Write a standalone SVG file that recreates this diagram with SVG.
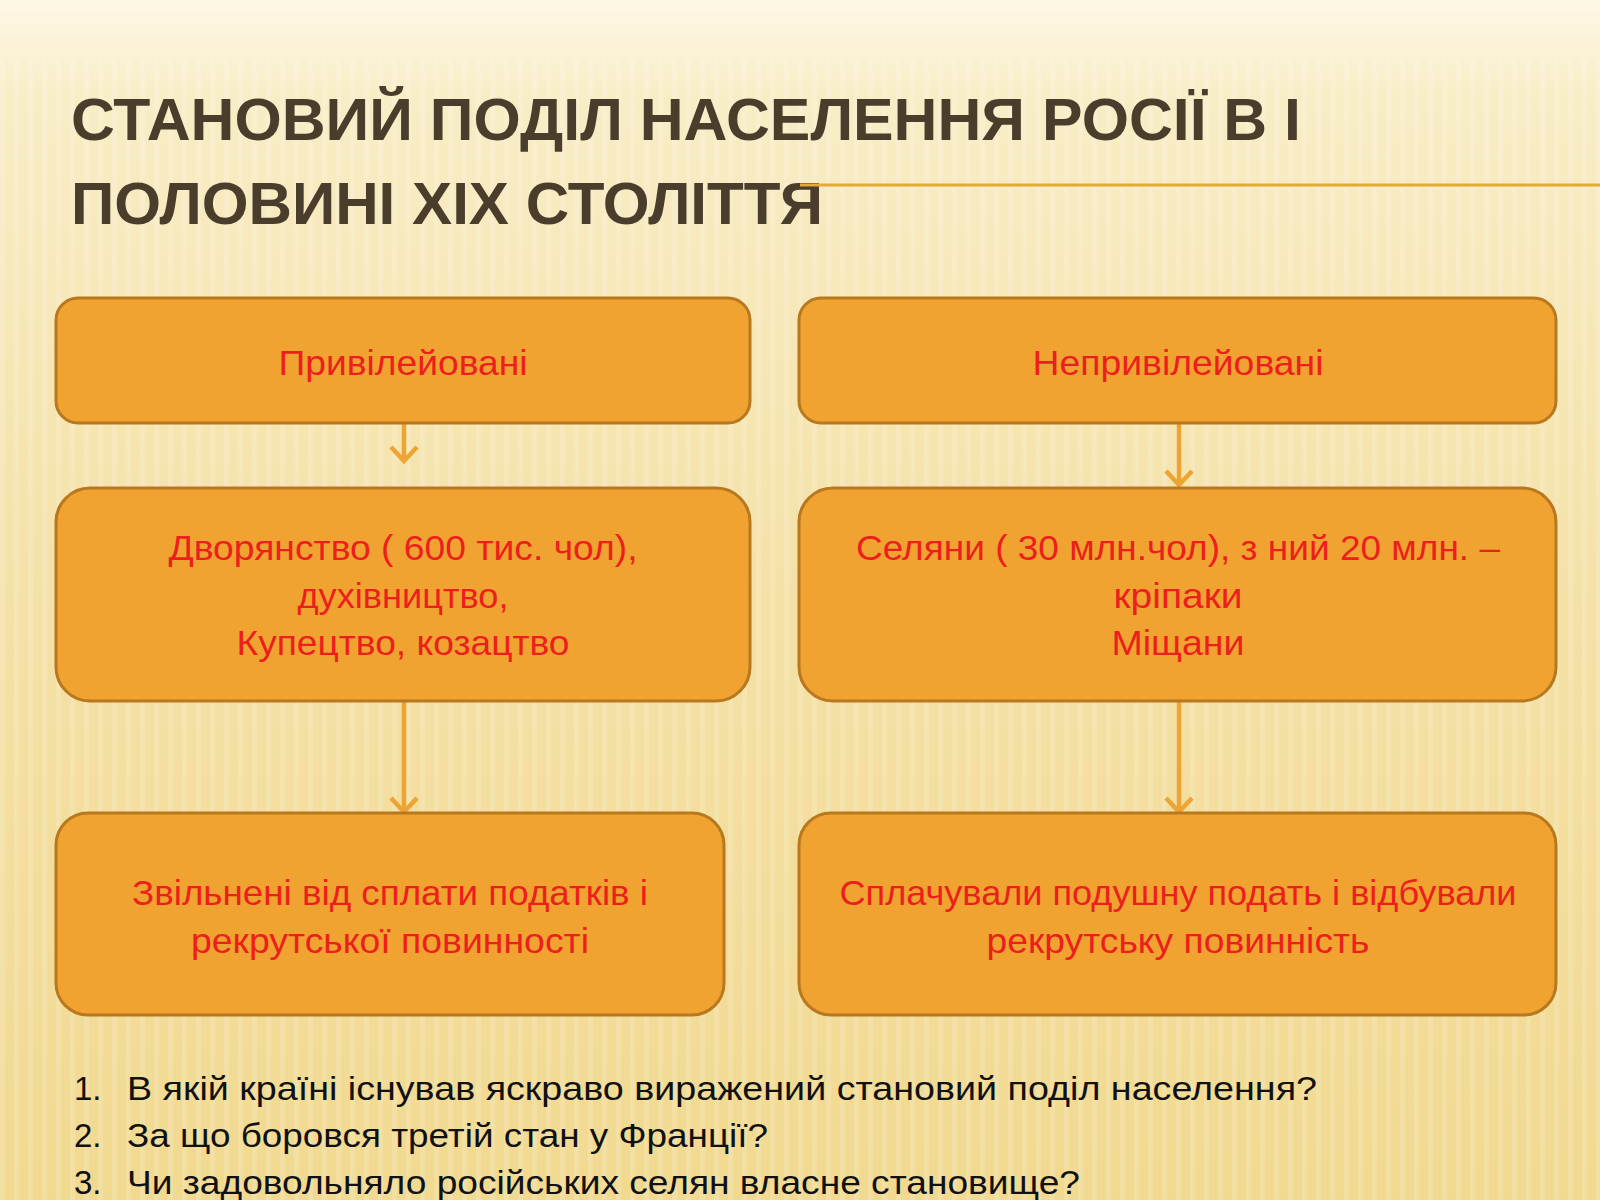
<svg xmlns="http://www.w3.org/2000/svg" width="1600" height="1200" viewBox="0 0 1600 1200">
<defs>
<linearGradient id="bg" x1="0" y1="0" x2="0" y2="1">
<stop offset="0" stop-color="#fdf8e6"/>
<stop offset="0.08" stop-color="#f9edc6"/>
<stop offset="0.5" stop-color="#f4e1a6"/>
<stop offset="1" stop-color="#f1d98f"/>
</linearGradient>
<pattern id="stripes" width="14" height="1200" patternUnits="userSpaceOnUse">
<rect x="0" y="0" width="5" height="1200" fill="#ffffff" opacity="0.25"/>
</pattern>
<marker id="ah" viewBox="0 0 30 30" refX="26" refY="15" markerWidth="30" markerHeight="30" markerUnits="userSpaceOnUse" orient="auto">
<path d="M12,2 L26,15 L12,28" fill="none" stroke="#eea433" stroke-width="4.5"/>
</marker>
</defs>
<style>
.box{fill:#f0a330;stroke:#b8781e;stroke-width:3}
.t{font-family:"Liberation Sans",sans-serif;font-size:35px;fill:#ec1f1c;text-anchor:middle}
.q{font-family:"Liberation Sans",sans-serif;font-size:33px;fill:#111}
.title{font-family:"Liberation Sans",sans-serif;font-size:60px;fill:#4b3d2c;font-weight:bold}
.c{stroke:#eea433;stroke-width:4.5;fill:none;marker-end:url(#ah)}
</style>
<rect width="1600" height="1200" fill="url(#bg)"/>
<rect y="60" width="1600" height="1140" fill="url(#stripes)" opacity="0.6"/>
<g id="title">
<text class="title" x="71" y="140" textLength="1230" lengthAdjust="spacingAndGlyphs">СТАНОВИЙ ПОДІЛ НАСЕЛЕННЯ РОСІЇ В І</text>
<text class="title" x="71" y="224" textLength="752" lengthAdjust="spacingAndGlyphs">ПОЛОВИНІ ХІХ СТОЛІТТЯ</text>
<line x1="800" y1="185" x2="1600" y2="185" stroke="#e8a73a" stroke-width="3"/>
</g>
<g id="connectors">
<line class="c" x1="404" y1="424" x2="404" y2="461"/>
<line class="c" x1="1179" y1="424" x2="1179" y2="485"/>
<line class="c" x1="404" y1="702" x2="404" y2="812"/>
<line class="c" x1="1179" y1="702" x2="1179" y2="812"/>
</g>
<g id="n1"><rect class="box" x="56" y="298" width="694" height="125" rx="22"/><text class="t" x="403" y="375" textLength="249" lengthAdjust="spacingAndGlyphs">Привілейовані</text></g>
<g id="n2"><rect class="box" x="799" y="298" width="757" height="125" rx="22"/><text class="t" x="1178" y="375" textLength="291" lengthAdjust="spacingAndGlyphs">Непривілейовані</text></g>
<g id="n3"><rect class="box" x="56" y="488" width="694" height="213" rx="34"/>
<text class="t" x="403" y="560" textLength="469" lengthAdjust="spacingAndGlyphs">Дворянство ( 600 тис. чол),</text>
<text class="t" x="403" y="608" textLength="211" lengthAdjust="spacingAndGlyphs">духівництво,</text>
<text class="t" x="403" y="655" textLength="333" lengthAdjust="spacingAndGlyphs">Купецтво, козацтво</text></g>
<g id="n4"><rect class="box" x="799" y="488" width="757" height="213" rx="34"/>
<text class="t" x="1178" y="560" textLength="644" lengthAdjust="spacingAndGlyphs">Селяни ( 30 млн.чол), з ний 20 млн. –</text>
<text class="t" x="1178" y="608" textLength="129" lengthAdjust="spacingAndGlyphs">кріпаки</text>
<text class="t" x="1178" y="655" textLength="133" lengthAdjust="spacingAndGlyphs">Міщани</text></g>
<g id="n5"><rect class="box" x="56" y="813" width="668" height="202" rx="32"/>
<text class="t" x="390" y="905" textLength="516" lengthAdjust="spacingAndGlyphs">Звільнені від сплати податків і</text>
<text class="t" x="390" y="953" textLength="398" lengthAdjust="spacingAndGlyphs">рекрутської повинності</text></g>
<g id="n6"><rect class="box" x="799" y="813" width="757" height="202" rx="32"/>
<text class="t" x="1178" y="905" textLength="677" lengthAdjust="spacingAndGlyphs">Сплачували подушну подать і відбували</text>
<text class="t" x="1178" y="953" textLength="383" lengthAdjust="spacingAndGlyphs">рекрутську повинність</text></g>
<g id="questions">
<text class="q" x="74" y="1100">1.</text><text class="q" x="127" y="1100" textLength="1190" lengthAdjust="spacingAndGlyphs">В якій країні існував яскраво виражений становий поділ населення?</text>
<text class="q" x="74" y="1147">2.</text><text class="q" x="127" y="1147" textLength="641" lengthAdjust="spacingAndGlyphs">За що боровся третій стан у Франції?</text>
<text class="q" x="74" y="1194">3.</text><text class="q" x="127" y="1194" textLength="953" lengthAdjust="spacingAndGlyphs">Чи задовольняло  російських селян власне становище?</text>
</g>
</svg>
